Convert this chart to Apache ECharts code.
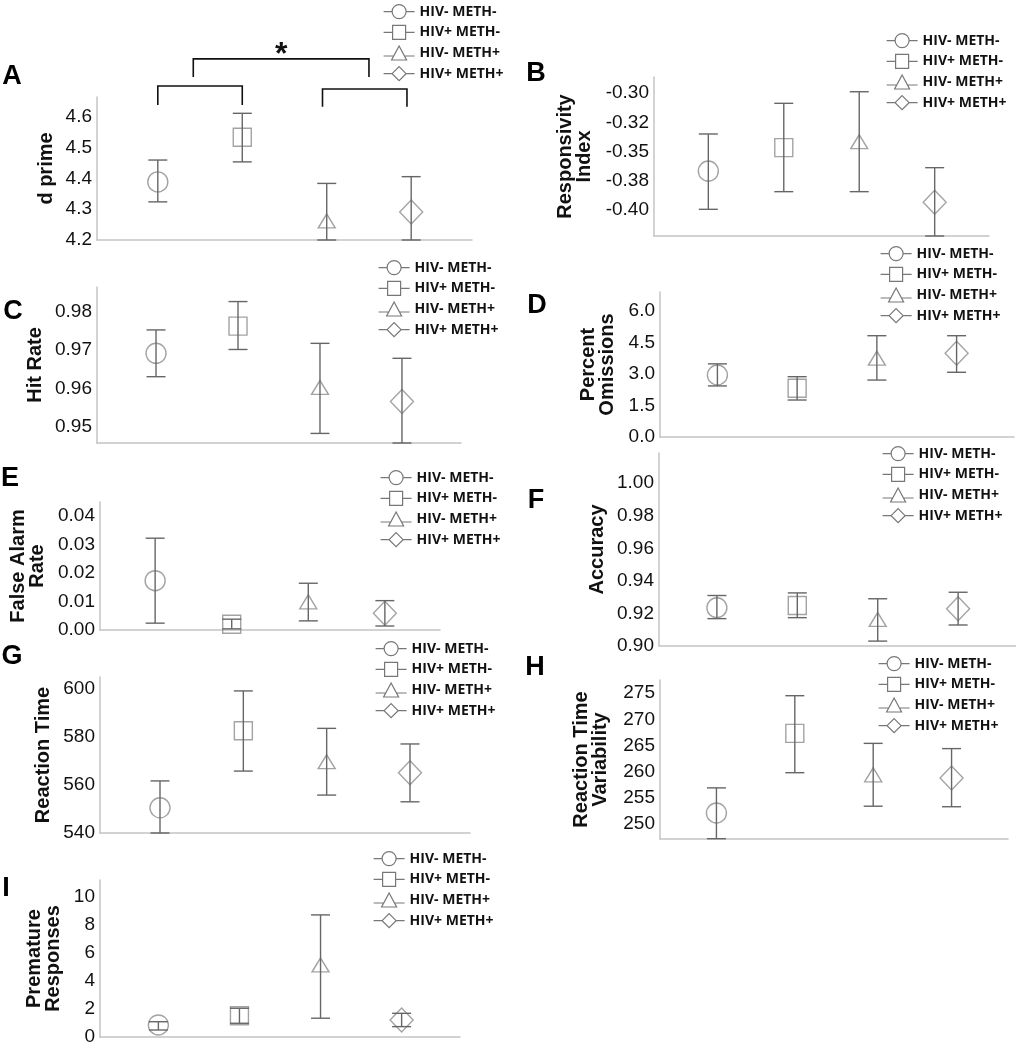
<!DOCTYPE html>
<html><head><meta charset="utf-8">
<script src="https://cdn.jsdelivr.net/npm/echarts@6/dist/echarts.min.js"></script>
<style>html,body{margin:0;padding:0;background:#fff}#c{width:1016px;height:1050px}</style>
</head><body><div id="c"></div>
<script>
// ---------------- data ----------------
const groups = ['HIV- METH-', 'HIV+ METH-', 'HIV- METH+', 'HIV+ METH+'];
const panelLetters = ['A', 'B', 'C', 'D', 'E', 'F', 'G', 'H', 'I'];
const yTitles = ['d prime', 'Responsivity\nIndex', 'Hit Rate', 'Percent\nOmissions', 'False Alarm\nRate',
  'Accuracy', 'Reaction Time', 'Reaction Time\nVariability', 'Premature\nResponses'];

const dPrimeMean = [4.389, 4.534, 4.262, 4.291];
const dPrimeLow  = [4.324, 4.454, 4.2, 4.2];
const dPrimeHigh = [4.460, 4.612, 4.384, 4.406];
const dPrimeTicks = [4.2, 4.3, 4.4, 4.5, 4.6];
const dPrimeTickText = ['4.2', '4.3', '4.4', '4.5', '4.6'];

const respMean = [-0.3667, -0.3467, -0.3416, -0.3934];
const respLow  = [-0.3994, -0.3843, -0.3843, -0.4222];
const respHigh = [-0.3350, -0.3088, -0.2989, -0.3638];
const respTicks = [-0.4, -0.375, -0.35, -0.325, -0.3];
const respTickText = ['-0.40', '-0.38', '-0.35', '-0.32', '-0.30'];

const hitMean = [0.9692, 0.9763, 0.9603, 0.9566];
const hitLow  = [0.9631, 0.9702, 0.9483, 0.9458];
const hitHigh = [0.9753, 0.9827, 0.9718, 0.9679];
const hitTicks = [0.95, 0.96, 0.97, 0.98];
const hitTickText = ['0.95', '0.96', '0.97', '0.98'];

const omisMean = [2.95, 2.32, 3.75, 3.99];
const omisLow  = [2.43, 1.76, 2.71, 3.08];
const omisHigh = [3.48, 2.87, 4.82, 4.82];
const omisTicks = [0, 1.5, 3, 4.5, 6];
const omisTickText = ['0.0', '1.5', '3.0', '4.5', '6.0'];

const faMean = [0.0173, 0.0020, 0.0099, 0.0059];
const faLow  = [0.0024, 0.0004, 0.0032, 0.0014];
const faHigh = [0.0322, 0.0038, 0.0164, 0.0103];
const faTicks = [0, 0.01, 0.02, 0.03, 0.04];
const faTickText = ['0.00', '0.01', '0.02', '0.03', '0.04'];

const accMean = [0.9235, 0.9249, 0.9163, 0.9229];
const accLow  = [0.9168, 0.9174, 0.9030, 0.9129];
const accHigh = [0.9310, 0.9326, 0.9290, 0.9330];
const accTicks = [0.90, 0.92, 0.94, 0.96, 0.98, 1.00];
const accTickText = ['0.90', '0.92', '0.94', '0.96', '0.98', '1.00'];

const rtMean = [550.5, 582.6, 569.7, 565.1];
const rtLow  = [540.0, 565.8, 555.8, 553.0];
const rtHigh = [561.7, 599.2, 583.6, 577.1];
const rtTicks = [540, 560, 580, 600];
const rtTickText = ['540', '560', '580', '600'];

const rtvMean = [252.1, 267.3, 259.4, 258.8];
const rtvLow  = [247.2, 259.8, 253.4, 253.3];
const rtvHigh = [256.9, 274.5, 265.4, 264.4];
const rtvTicks = [250, 255, 260, 265, 270, 275];
const rtvTickText = ['250', '255', '260', '265', '270', '275'];

const premMean = [0.86, 1.52, 5.14, 1.21];
const premLow  = [0.50, 0.98, 1.34, 0.74];
const premHigh = [1.09, 2.05, 8.71, 1.69];
const premTicks = [0, 2, 4, 6, 8, 10];
const premTickText = ['0', '2', '4', '6', '8', '10'];

// significance brackets in panel A (group index from/to, bar level, leg level)
const bracketFrom = [0, 1.95, 0.42];
const bracketTo   = [1, 2.95, 2.5];
const bracketBar  = [4.701, 4.691, 4.789];
const bracketLeg  = [4.639, 4.633, 4.730];
const starPos = [1.46, 4.80];

// ---------------- assembly ----------------
const means = [dPrimeMean, respMean, hitMean, omisMean, faMean, accMean, rtMean, rtvMean, premMean];
const lows  = [dPrimeLow, respLow, hitLow, omisLow, faLow, accLow, rtLow, rtvLow, premLow];
const highs = [dPrimeHigh, respHigh, hitHigh, omisHigh, faHigh, accHigh, rtHigh, rtvHigh, premHigh];
const ticks = [dPrimeTicks, respTicks, hitTicks, omisTicks, faTicks, accTicks, rtTicks, rtvTicks, premTicks];
const tickTexts = [dPrimeTickText, respTickText, hitTickText, omisTickText, faTickText, accTickText, rtTickText, rtvTickText, premTickText];

// layout (pixels) and axis ranges
const layout = [
  {l: 97,  t: 97,  w: 375, h: 143, min: 4.2,     max: 4.665,   gap: 41, lx: 12,  ly: 77,  gl: 383, gt: 4},
  {l: 654, t: 77,  w: 335, h: 159, min: -0.4222, max: -0.2863, gap: 60, lx: 536, ly: 74,  gl: 886, gt: 33},
  {l: 97,  t: 287, w: 364, h: 156, min: 0.9458,  max: 0.9865,  gap: 52, lx: 13,  ly: 312, gl: 378, gt: 260},
  {l: 660, t: 292, w: 354, h: 145, min: 0,       max: 6.9,     gap: 43, lx: 537, ly: 306, gl: 880, gt: 246},
  {l: 100, t: 502, w: 340, h: 128, min: 0,       max: 0.0449,  gap: 53, lx: 10,  ly: 479, gl: 380, gt: 470},
  {l: 659, t: 453, w: 365, h: 193, min: 0.90,    max: 1.0185,  gap: 52, lx: 536, ly: 501, gl: 882, gt: 446},
  {l: 100, t: 677, w: 370, h: 156, min: 540,     max: 605,     gap: 47, lx: 12,  ly: 657, gl: 375, gt: 641},
  {l: 660, t: 680, w: 348, h: 159, min: 247.14,  max: 277.5,   gap: 50, lx: 535, ly: 668, gl: 878, gt: 656},
  {l: 100, t: 880, w: 360, h: 157, min: 0,       max: 11.2,    gap: 37, lx: 6,   ly: 889, gl: 373, gt: 851}
];

const shapes = ['circle', 'rect', 'triangle', 'diamond'];
const shapeSizes = [20, 18, [17, 14], [23, 24]];
const legendIcons = [
  'path://M0,7 L8.5,7 M22.5,7 L31,7 M8.5,7 A7,7 0 1 1 22.5,7 A7,7 0 1 1 8.5,7 Z',
  'path://M0,7 L9,7 M22,7 L31,7 M9,0 L22,0 L22,14 L9,14 Z',
  'path://M0,10 L10,10 M21,10 L31,10 M15.5,0 L23,14 L8,14 Z',
  'path://M0,7 L8.5,7 M22.5,7 L31,7 M15.5,0 L22.5,7 L15.5,14 L8.5,7 Z'
];

const FONT = '"Liberation Sans", Arial, sans-serif';
const grids = [], xAxes = [], yAxes = [], series = [], legends = [], graphics = [];

layout.forEach((L, p) => {
  grids.push({left: L.l, top: L.t, width: L.w, height: L.h, containLabel: false});
  xAxes.push({
    type: 'value', gridIndex: p, min: -0.72, max: 3.72,
    axisLine: {show: true, onZero: false, lineStyle: {color: '#c4c4c4', width: 1.5}},
    axisTick: {show: false}, axisLabel: {show: false}, splitLine: {show: false}
  });
  const tv = ticks[p], tt = tickTexts[p];
  yAxes.push({
    type: 'value', gridIndex: p, min: L.min, max: L.max,
    name: yTitles[p], nameLocation: 'middle', nameGap: L.gap, nameRotate: 90,
    nameTextStyle: {fontFamily: FONT, fontWeight: 'bold', fontSize: 20, lineHeight: 19, color: '#111'},
    axisLine: {show: true, onZero: false, lineStyle: {color: '#c4c4c4', width: 1.5}},
    axisTick: {show: false},
    splitLine: {show: false},
    axisLabel: {
      show: true, customValues: tv, margin: 5, fontFamily: FONT, fontSize: 19, color: '#111',
      formatter: v => {
        const i = tv.findIndex(t => Math.abs(t - v) < 1e-9);
        return i >= 0 ? tt[i] : '';
      }
    }
  });
  groups.forEach((g, k) => {
    series.push({
      type: 'scatter', name: g, xAxisIndex: p, yAxisIndex: p,
      symbol: shapes[k], symbolSize: shapeSizes[k],
      data: [[k, means[p][k]]],
      itemStyle: {color: 'rgba(0,0,0,0)', borderColor: '#8c8c8c', borderWidth: 1.4},
      emphasis: {disabled: true}, z: 3, silent: true
    });
  });
  series.push({
    type: 'custom', name: 'err' + p, xAxisIndex: p, yAxisIndex: p, clip: false, z: 4, silent: true,
    data: groups.map((g, k) => [k, lows[p][k], highs[p][k]]),
    renderItem: (params, api) => {
      const x = api.value(0);
      const lo = api.coord([x, api.value(1)]);
      const hi = api.coord([x, api.value(2)]);
      const w = 9.5;
      const st = {stroke: '#666', lineWidth: 1.4};
      return {type: 'group', children: [
        {type: 'line', shape: {x1: lo[0], y1: lo[1], x2: hi[0], y2: hi[1]}, style: st},
        {type: 'line', shape: {x1: lo[0] - w, y1: lo[1], x2: lo[0] + w, y2: lo[1]}, style: st},
        {type: 'line', shape: {x1: hi[0] - w, y1: hi[1], x2: hi[0] + w, y2: hi[1]}, style: st}
      ]};
    }
  });
  legends.push({
    orient: 'vertical', left: L.gl, top: L.gt, padding: 0, itemGap: 5.5,
    itemWidth: 31, itemHeight: 14, selectedMode: false,
    itemStyle: {color: 'rgba(0,0,0,0)', borderColor: '#555', borderWidth: 1.2},
    textStyle: {fontFamily: '"Open Sans", sans-serif', fontWeight: 'bold', fontSize: 14, color: '#111'},
    data: groups.map((g, k) => ({name: g, icon: legendIcons[k]}))
  });
  graphics.push({
    type: 'text', x: L.lx, y: L.ly, silent: true,
    style: {text: panelLetters[p], font: 'bold 27px ' + FONT, fill: '#000', textAlign: 'center', textVerticalAlign: 'middle'}
  });
});

// brackets + asterisk for panel A
series.push({
  type: 'custom', name: 'brackets', xAxisIndex: 0, yAxisIndex: 0, clip: false, silent: true, z: 5,
  data: bracketFrom.map((f, i) => [f, bracketTo[i], bracketBar[i], bracketLeg[i]]),
  renderItem: (params, api) => {
    const a = api.coord([api.value(0), api.value(3)]);
    const b = api.coord([api.value(0), api.value(2)]);
    const c = api.coord([api.value(1), api.value(2)]);
    const d = api.coord([api.value(1), api.value(3)]);
    return {type: 'polyline', shape: {points: [a, b, c, d]}, style: {stroke: '#111', lineWidth: 1.6, fill: null}};
  }
});
series.push({
  type: 'custom', name: 'star', xAxisIndex: 0, yAxisIndex: 0, clip: false, silent: true, z: 5,
  data: [starPos],
  renderItem: (params, api) => {
    const pt = api.coord([api.value(0), api.value(1)]);
    return {type: 'text', x: pt[0], y: pt[1], style: {text: '*', font: 'bold 32px ' + FONT, fill: '#111', textAlign: 'center', textVerticalAlign: 'middle'}};
  }
});

const chart = echarts.init(document.getElementById('c'), null, {renderer: 'canvas'});
chart.setOption({
  animation: false,
  backgroundColor: '#fff',
  grid: grids, xAxis: xAxes, yAxis: yAxes, series: series, legend: legends, graphic: graphics
});
</script>
</body></html>
